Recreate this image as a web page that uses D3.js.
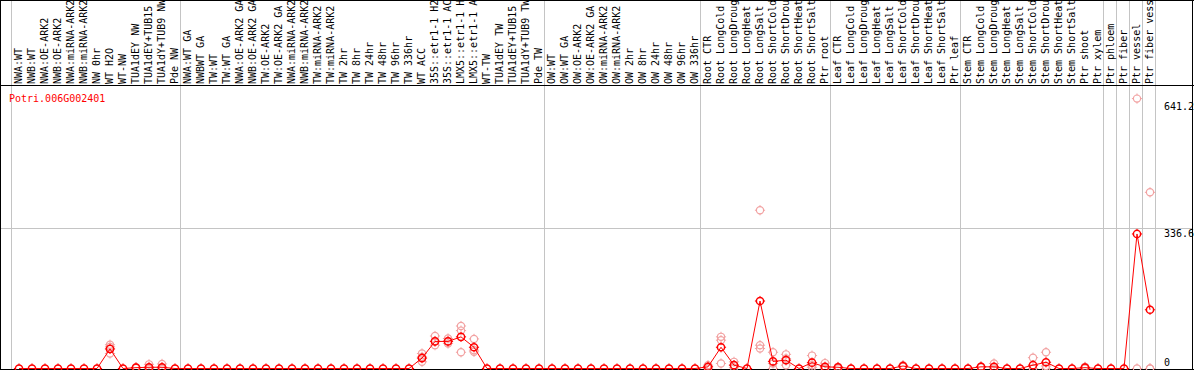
<!DOCTYPE html>
<html><head><meta charset="utf-8">
<script src="https://cdn.jsdelivr.net/npm/d3@7"></script>
<style>body{margin:0;background:#fff;} svg{display:block;}</style>
</head><body>
<svg id="c" width="1194" height="370"></svg>
<script>
const geneId = "Potri.006G002401";
const categories = ["NWA:WT","NWB:WT","NWA:OE-ARK2","NWB:OE-ARK2","NWA:miRNA-ARK2","NWB:miRNA-ARK2","NW 0hr","WT H2O","WT-NW","TUA1dEY NW","TUA1dEY+TUB15","TUA1dY+TUB9 NW","Pde NW",
"NWA:WT GA","NWBWT GA","TW:WT","TW:WT GA","NWA:OE-ARK2 GA","NWB:OE-ARK2 GA","TW:OE-ARK2","TW:OE-ARK2 GA","NWA:miRNA-ARK2","NWB:miRNA-ARK2","TW:miRNA-ARK2","TW:miRNA-ARK2","TW 2hr","TW 8hr","TW 24hr","TW 48hr","TW 96hr","TW 336hr","WT ACC","35S::etr1-1 H2O","35S::etr1-1 ACC","LMX5::etr1-1 H2O","LMX5::etr1-1 ACC","WT-TW","TUA1dEY TW","TUA1dEY+TUB15 TW","TUA1dY+TUB9 TW","Pde TW",
"OW:WT","OW:WT GA","OW:OE-ARK2","OW:OE-ARK2 GA","OW:miRNA-ARK2","OW:miRNA-ARK2","OW 2hr","OW 8hr","OW 24hr","OW 48hr","OW 96hr","OW 336hr",
"Root CTR","Root LongCold","Root LongDrought","Root LongHeat","Root LongSalt","Root ShortCold","Root ShortDrought","Root ShortHeat","Root ShortSalt","Ptr root",
"Leaf CTR","Leaf LongCold","Leaf LongDrought","Leaf LongHeat","Leaf LongSalt","Leaf ShortCold","Leaf ShortDrought","Leaf ShortHeat","Leaf ShortSalt","Ptr leaf",
"Stem CTR","Stem LongCold","Stem LongDrought","Stem LongHeat","Stem LongSalt","Stem ShortCold","Stem ShortDrought","Stem ShortHeat","Stem ShortSalt","Ptr shoot",
"Ptr xylem","Ptr phloem","Ptr fiber","Ptr vessel","Ptr fiber vessel"];

// mean expression per sample
const means = [0,0,0,0,0,0,0,47,0,2,3,3,0,
0,0,0,0,0,0,0,0,0,0,0,0,0,0,0,0,0,0,25,65,65,76,51,0,0,0,0,0,
0,0,0,0,0,0,0,0,0,0,0,0,
4,51,8,0,162,17,20,0,14,4,
3,0,0,0,0,6,0,0,0,0,
0,4,4,0,0,8,15,0,0,2,
0,0,0,323,141];

// replicate values per sample
const replicates = [[],[],[],[],[],[],[],[57,52,36],[],[3,1],[10,0,0],[11,0,0],[],
[],[],[],[],[],[],[],[],[],[],[],[],[],[],[],[],[],[],[36,28,16],[78,66,56],[72,66,60],[102,91,39],[71,40,44],[],[],[],[],[],
[],[],[],[],[],[],[],[],[],[],[],[],
[8,4,0],[76,68,12],[16,8,2],[],[380,56,48],[39,12,0],[34,24,8],[],[31,8,3],[13,0,0],
[4,0],[],[],[],[],[8,4],[],[],[],[],
[],[5,3],[12,0],[],[],[26,0,0],[39,6,0],[],[],[4,0],
[],[],[],[648,0],[423,0,0]];

const yTicks = [641.2, 336.6, 0];
const gridValues = [336.6];
// index of last sample in each group (separator drawn after it)
const groupEnds = [-1, 12, 40, 52, 62, 72, 83, 84, 85, 86, 87];

const W = 1194, H = 370;
const svg = d3.select("#c");
const font = "'DejaVu Sans Mono', 'Liberation Mono', monospace";

const x = d3.scaleLinear().domain([0, categories.length - 1]).range([19, 19 + 13 * (categories.length - 1)]);
const y = d3.scaleLinear().domain([0, 641.2]).range([368.5, 368.5 - 641.2 * (140.2 / 336.6)]);

// separators
svg.append("g").selectAll("line").data(groupEnds).join("line")
  .attr("x1", d => x(d) + 5.5).attr("x2", d => x(d) + 5.5)
  .attr("y1", 0).attr("y2", 369)
  .attr("stroke", "#c4c4c4").attr("stroke-width", 1);

// gridline
svg.append("g").selectAll("line").data(gridValues).join("line")
  .attr("x1", 1).attr("x2", 1193)
  .attr("y1", d => Math.round(y(d)) + 0.5).attr("y2", d => Math.round(y(d)) + 0.5)
  .attr("stroke", "#c4c4c4").attr("stroke-width", 1);

// borders
const bl = [[0.5,0,0.5,370],[1192.5,0,1192.5,370],[0,0.5,1194,0.5],[0,85.5,1194,85.5],[0,369.5,1194,369.5]];
svg.append("g").selectAll("line").data(bl).join("line")
  .attr("x1", d=>d[0]).attr("y1", d=>d[1]).attr("x2", d=>d[2]).attr("y2", d=>d[3])
  .attr("stroke", "#000").attr("stroke-width", 1);

// header labels
svg.append("g").selectAll("text").data(categories).join("text")
  .attr("transform", (d, i) => `translate(${x(i) + 3},84) rotate(-90)`)
  .attr("font-family", font).attr("font-size", 10).attr("fill", "#000")
  .text(d => d);

// title
svg.append("text").attr("x", 9).attr("y", 101.5)
  .attr("font-family", font).attr("font-size", 10).attr("fill", "#ff0000")
  .text(geneId);

// y labels
svg.append("g").selectAll("text").data(yTicks).join("text")
  .attr("x", 1164).attr("y", d => Math.min(y(d) + 5, 362))
  .attr("dominant-baseline", "central")
  .attr("font-family", font).attr("font-size", 10).attr("fill", "#000")
  .text(d => d);

function marker(g, color, sw) {
  const r = 3.6;
  g.append("circle").attr("r", r).attr("fill", "none").attr("stroke", color).attr("stroke-width", sw);
  g.append("path").attr("d", `M0,${-r-1.5}V${-r+0.5}M0,${r-0.5}V${r+1.5}M${-r-1.5},0H${-r+0.5}M${r-0.5},0H${r+1.5}`)
    .attr("stroke", color).attr("stroke-width", 1);
}

// replicates
const repPts = [];
replicates.forEach((arr, i) => arr.forEach(v => repPts.push({i, v})));
svg.append("g").selectAll("g").data(repPts).join("g")
  .attr("transform", d => `translate(${x(d.i)},${y(d.v)})`)
  .each(function() { marker(d3.select(this), "#f2a2a2", 1.2); });

// mean line
svg.append("path").datum(means)
  .attr("d", d3.line().x((d, i) => x(i)).y(d => y(d)))
  .attr("fill", "none").attr("stroke", "#ff0000").attr("stroke-width", 1);

// mean markers
svg.append("g").selectAll("g").data(means).join("g")
  .attr("transform", (d, i) => `translate(${x(i)},${y(d)})`)
  .each(function() { marker(d3.select(this), "#ff0000", 1.5); });
</script>
</body></html>
